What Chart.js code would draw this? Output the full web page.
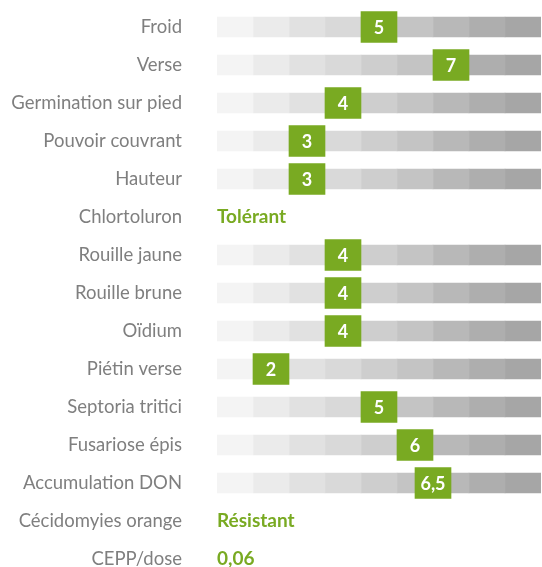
<!DOCTYPE html>
<html>
<head>
<meta charset="utf-8">
<script src="https://cdn.jsdelivr.net/npm/chart.js@4/dist/chart.umd.min.js"></script>
<style>
html,body{margin:0;padding:0;background:#fff;overflow:hidden;}
canvas{display:block;}
</style>
</head>
<body>
<canvas id="c" width="542" height="567"></canvas>
<script>
const categories = ['Froid','Verse','Germination sur pied','Pouvoir couvrant','Hauteur','Chlortoluron','Rouille jaune','Rouille brune','Oïdium','Piétin verse','Septoria tritici','Fusariose épis','Accumulation DON','Cécidomyies orange','CEPP/dose'];
const scores = [5,7,4,3,3,null,4,4,4,2,5,6,6.5,null,null];
const textValues = [null,null,null,null,null,'Tolérant',null,null,null,null,null,null,null,'Résistant','0,06'];
const scaleSteps = [1,2,3,4,5,6,7,8,9];
const stepColors = ['#f4f4f4','#ebebeb','#e1e1e1','#d9d9d9','#cecece','#c4c4c4','#b8b8b8','#aeaeae','#a6a6a6'];
const GREEN = '#79aa22';
const GRAY = '#7f7f7f';

const datasets = [];
datasets.push({
  label: 'note',
  data: scores.map((v,i)=> v==null ? null : {y:i, x:[v-1, v]}).filter(d=>d),
  backgroundColor: GREEN,
  barThickness: 31,
  order: 0
});
scaleSteps.forEach((s,k)=>{
  datasets.push({
    label: 'step'+s,
    data: scores.map((v,i)=> v==null ? null : {y:i, x:[s-1, s]}).filter(d=>d),
    backgroundColor: stepColors[k],
    barThickness: 20,
    order: 1
  });
});

const labelPlugin = {
  id: 'labels',
  afterDatasetsDraw(chart){
    const ctx = chart.ctx, xs = chart.scales.x, ys = chart.scales.y;
    ctx.save();
    ctx.textBaseline = 'middle';
    scores.forEach((v,i)=>{
      if(v==null) return;
      ctx.fillStyle = '#fff';
      ctx.font = 'bold 18px Lato';
      ctx.textAlign = 'center';
      ctx.fillText(String(v).replace('.',','), xs.getPixelForValue(v-0.5), ys.getPixelForValue(i)+1);
    });
    textValues.forEach((t,i)=>{
      if(t==null) return;
      ctx.fillStyle = GREEN;
      ctx.font = 'bold 19px Lato';
      ctx.textAlign = 'left';
      ctx.fillText(t, xs.left, ys.getPixelForValue(i));
    });
    ctx.restore();
  }
};

new Chart(document.getElementById('c'), {
  type: 'bar',
  data: { datasets },
  options: {
    responsive: false,
    animation: false,
    indexAxis: 'y',
    layout: { padding: { top: 8, right: 1, bottom: 8, left: 0 } },
    plugins: { legend: { display: false }, tooltip: { enabled: false } },
    datasets: { bar: { grouped: false, borderWidth: 0 } },
    scales: {
      x: { type: 'linear', min: 0, max: 9, display: false, offset: false },
      y: {
        type: 'linear', reverse: true, min: -0.5, max: 14, offset: false,
        grid: { display: false, drawTicks: true, tickLength: 35 },
        border: { display: false },
        afterBuildTicks(axis){ axis.ticks = categories.map((_,i)=>({value:i})); },
        afterFit(axis){ axis.width = 217; },
        ticks: {
          autoSkip: false,
          padding: 0,
          color: GRAY,
          font: { family: 'Lato', size: 18.5, lineHeight: 0.8 },
          callback: (v)=> categories[v]
        }
      }
    }
  },
  plugins: [labelPlugin]
});
</script>
</body>
</html>
